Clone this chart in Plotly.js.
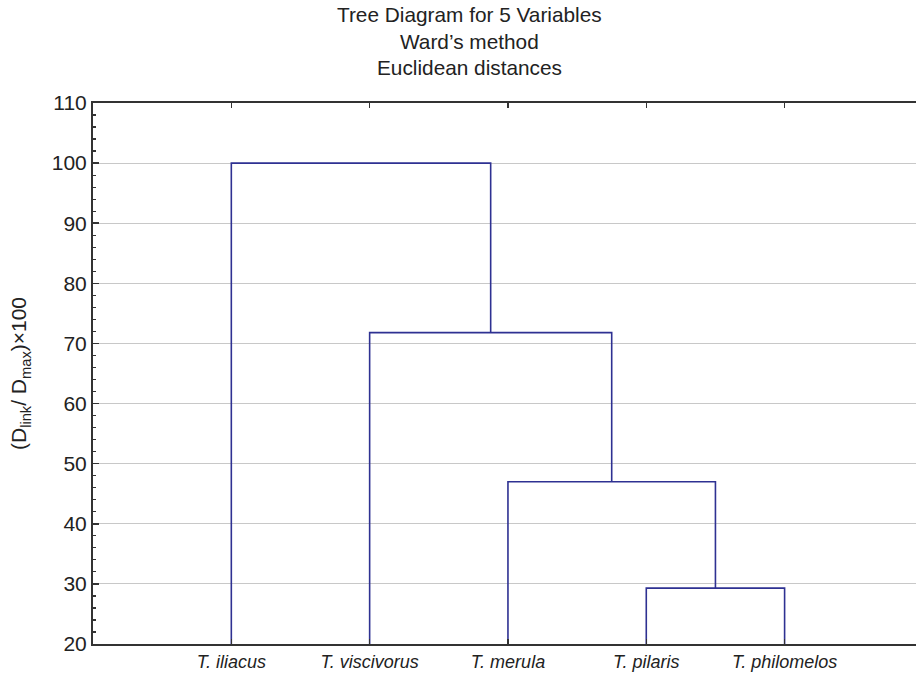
<!DOCTYPE html>
<html>
<head>
<meta charset="utf-8">
<script src="https://cdn.plot.ly/plotly-3.0.1.min.js"></script>
<style>html,body{margin:0;padding:0;background:#fff;}#chart{width:917px;height:676px;}</style>
</head>
<body>
<div id="chart"></div>
<script>
// Leaves in display order
const leaves = ['T. iliacus', 'T. viscivorus', 'T. merula', 'T. pilaris', 'T. philomelos'];
// Merge steps: pairs of cluster ids (0-4 = leaves, 5+ = formed clusters)
const mergeA = [3, 2, 1, 0];
const mergeB = [4, 5, 6, 7];
// Linkage distance (Dlink/Dmax)*100 at each merge
const linkHeights = [29.3, 47.0, 71.8, 100.0];
const yTicks = [20, 30, 40, 50, 60, 70, 80, 90, 100, 110];
const baseLevel = 20;

// Build dendrogram segments from the data
const pos = leaves.map((_, i) => i + 1);
const hgt = leaves.map(() => baseLevel);
const xs = [], ys = [];
for (let k = 0; k < linkHeights.length; k++) {
  const a = mergeA[k], b = mergeB[k], h = linkHeights[k];
  xs.push(pos[a], pos[a], pos[b], pos[b], null);
  ys.push(hgt[a], h, h, hgt[b], null);
  pos.push((pos[a] + pos[b]) / 2);
  hgt.push(h);
}

const trace = {
  x: xs, y: ys, type: 'scatter', mode: 'lines',
  line: {color: '#2E3192', width: 1.6},
  hoverinfo: 'skip', showlegend: false, connectgaps: false
};

const font = {family: 'Liberation Sans, Arial, sans-serif', color: '#222'};
const titleLines = ['Tree Diagram for 5 Variables', 'Ward\u2019s method', 'Euclidean distances'];
const titleY = [1.1627, 1.1128, 1.0647];

const layout = {
  width: 917, height: 676,
  margin: {l: 93, r: 1, t: 103, b: 32},
  paper_bgcolor: '#fff', plot_bgcolor: '#fff',
  font: font,
  showlegend: false,
  xaxis: {
    range: [0, 5.95],
    tickmode: 'array',
    tickvals: leaves.map((_, i) => i + 1),
    ticktext: leaves,
    tickfont: {family: font.family, size: 18, color: '#222', style: 'italic'},
    ticks: 'inside', ticklen: 5, tickcolor: '#333', tickwidth: 1.5,
    showline: true, linecolor: '#333', linewidth: 2,
    mirror: 'ticks',
    showgrid: false, zeroline: false, fixedrange: true
  },
  yaxis: {
    range: [20, 110],
    tickmode: 'array', tickvals: yTicks,
    tickfont: {family: font.family, size: 21, color: '#222'},
    ticks: 'inside', ticklen: 6, tickcolor: '#333', tickwidth: 1.5,
    minor: {ticks: 'inside', ticklen: 3, dtick: 2, tick0: 20, tickcolor: '#333', tickwidth: 1.2, showgrid: false},
    showline: true, linecolor: '#333', linewidth: 2,
    showgrid: true, gridcolor: '#c8c8c8', gridwidth: 1,
    zeroline: false, fixedrange: true,
    title: {text: '(D<sub>link</sub>/ D<sub>max</sub>)\u00d7100', font: {family: font.family, size: 21, color: '#222'}, standoff: 19}
  },
  annotations: titleLines.map((t, i) => ({
    text: t, xref: 'paper', yref: 'paper', x: 0.457, y: titleY[i],
    xanchor: 'center', yanchor: 'middle', showarrow: false,
    font: {family: font.family, size: 20.8, color: '#222'}
  }))
};

Plotly.newPlot('chart', [trace], layout, {staticPlot: true, displayModeBar: false});
</script>
</body>
</html>
